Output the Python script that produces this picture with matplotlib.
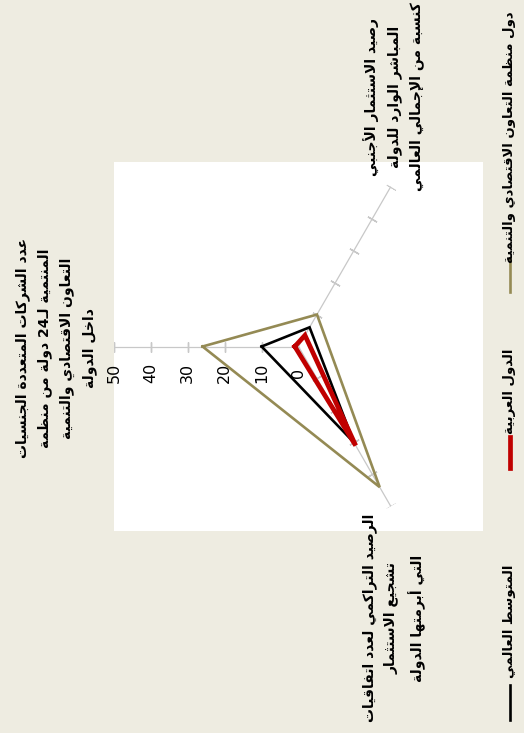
import numpy as np
import matplotlib
matplotlib.use("Agg")
import matplotlib.pyplot as plt
from matplotlib.patches import Rectangle
from matplotlib.lines import Line2D

# %% data
categories = [
    "عدد الشركات المتعددة الجنسيات\nالمنتمية لـ24 دولة من منظمة\nالتعاون الاقتصادي والتنمية\nداخل الدولة",
    "رصيد الاستثمار الأجنبي\nالمباشر الوارد للدولة\nكنسبة من الإجمالي العالمي",
    "الرصيد التراكمي لعدد اتفاقيات\nتشجيع الاستثمار\nالتي أبرمتها الدولة",
]
series_names = [
    "دول منظمة التعاون الاقتصادي والتنمية",
    "الدول العربية",
    "المتوسط العالمي",
]
oecd = [26, 10, 44]
arab = [1, 3.5, 31]
world = [10, 6, 30]
value_ticks = [0, 10, 20, 30, 40, 50]

OLIVE = "#948A54"
RED = "#C00000"
GRAY = "#C8C8C8"
BG = "#EEECE1"

# %% minimal arabic shaping (matplotlib has no bidi / joining)
_counts = {0x621: 1, 0x622: 2, 0x623: 2, 0x624: 2, 0x625: 2, 0x626: 4, 0x627: 2,
           0x628: 4, 0x629: 2, 0x62A: 4, 0x62B: 4, 0x62C: 4, 0x62D: 4, 0x62E: 4,
           0x62F: 2, 0x630: 2, 0x631: 2, 0x632: 2, 0x633: 4, 0x634: 4, 0x635: 4,
           0x636: 4, 0x637: 4, 0x638: 4, 0x639: 4, 0x63A: 4, 0x641: 4, 0x642: 4,
           0x643: 4, 0x644: 4, 0x645: 4, 0x646: 4, 0x647: 4, 0x648: 2, 0x649: 2,
           0x64A: 4}
FORMS = {}
_c = 0xFE80
for k in sorted(_counts):
    FORMS[chr(k)] = (_c, _counts[k])
    _c += _counts[k]
LAMALEF = {"آ": 0xFEF5, "أ": 0xFEF7, "إ": 0xFEF9, "ا": 0xFEFB}
TATWEEL = "\u0640"


def shape_line(s):
    toks = []
    i = 0
    while i < len(s):
        ch = s[i]
        if ch == "ل" and i + 1 < len(s) and s[i + 1] in LAMALEF:
            toks.append(("LA", LAMALEF[s[i + 1]]))
            i += 2
        else:
            toks.append(("C", ch))
            i += 1

    def joins_next(t):
        if t[0] == "LA":
            return False
        ch = t[1]
        return ch == TATWEEL or (ch in FORMS and FORMS[ch][1] == 4)

    def joins_prev(t):
        if t[0] == "LA":
            return True
        ch = t[1]
        return ch == TATWEEL or (ch in FORMS and FORMS[ch][1] > 1)

    out = []
    for j, t in enumerate(toks):
        prev = j > 0 and joins_next(toks[j - 1]) and joins_prev(t)
        nxt = j + 1 < len(toks) and joins_next(t) and joins_prev(toks[j + 1])
        if t[0] == "LA":
            out.append(chr(t[1] + (1 if prev else 0)))
            continue
        ch = t[1]
        if ch not in FORMS:
            out.append(ch)
            continue
        base, n = FORMS[ch]
        if n == 1:
            out.append(chr(base))
        elif n == 2:
            out.append(chr(base + (1 if prev else 0)))
        else:
            if prev and nxt:
                out.append(chr(base + 3))
            elif nxt:
                out.append(chr(base + 2))
            elif prev:
                out.append(chr(base + 1))
            else:
                out.append(chr(base))
    # visual order: reverse, but keep digit runs left-to-right
    out = out[::-1]
    res, run = [], []
    for ch in out:
        if ch.isdigit():
            run.append(ch)
        else:
            res.extend(run[::-1])
            run = []
            res.append(ch)
    res.extend(run[::-1])
    return "".join(res)


def ar(s):
    return "\n".join(shape_line(line) for line in s.split("\n"))


plt.rcParams["font.family"] = ["DejaVu Sans"]

# %% figure
W, H = 524, 733
fig = plt.figure(figsize=(W / 100, H / 100), dpi=100, facecolor=BG)
pos = [114 / W, 202 / H, 369 / W, 369 / H]
fig.add_artist(Rectangle((pos[0], pos[1]), pos[2], pos[3], transform=fig.transFigure,
                         facecolor="white", edgecolor="none", zorder=0))

ax = fig.add_axes(pos, projection="polar")
ax.set_facecolor("none")
ax.set_theta_zero_location("W")
ax.set_theta_direction(-1)
ax.set_ylim(0, 50)
ax.grid(False)
ax.set_xticks([])
ax.set_yticks([])
ax.spines["polar"].set_visible(False)

n = len(categories)
theta = np.arange(n) * 2 * np.pi / n
screen_angles = [180, 60, -60]

for th, sa in zip(theta, screen_angles):
    ax.plot([th, th], [0, value_ticks[-1]], color=GRAY, lw=0.9, zorder=1)
    ax.plot([th] * (len(value_ticks) - 1), value_ticks[1:], ls="none",
            marker=(2, 2, sa - 180), ms=7.5, mec=GRAY, mew=1.0, zorder=1)

for v in value_ticks:
    ax.annotate(str(v), xy=(0, v), xytext=(0, -19), textcoords="offset points",
                rotation=90, ha="center", va="center", fontsize=11.5, color="black")

th_closed = np.append(theta, theta[0])
for vals, col, lw in [(oecd, OLIVE, 1.9), (world, "black", 1.9), (arab, RED, 3.4)]:
    ax.plot(th_closed, list(vals) + [vals[0]], color=col, lw=lw,
            solid_joinstyle="miter", zorder=3)

# category labels
label_pos = [(56, 348), (394, 97), (394, 618)]
for txt, (px, py) in zip(categories, label_pos):
    fig.text(px / W, 1 - py / H, ar(txt), rotation=90, ha="center", va="center",
             multialignment="center", fontsize=10, fontweight="bold", linespacing=1.66)

# legend
legend_items = [(OLIVE, 1.9, 137, (258, 292)), (RED, 3.4, 391, (437, 468)),
                ("black", 1.9, 621, (685, 720))]
for name, (col, lw, ty, (y0, y1)) in zip(series_names, legend_items):
    fig.text(509 / W, 1 - ty / H, ar(name), rotation=90, ha="center", va="center",
             fontsize=9.5, fontweight="bold")
    fig.add_artist(Line2D([510 / W, 510 / W], [1 - y0 / H, 1 - y1 / H],
                          transform=fig.transFigure, color=col, lw=lw))

fig.savefig("out.png", dpi=100, facecolor=BG)
